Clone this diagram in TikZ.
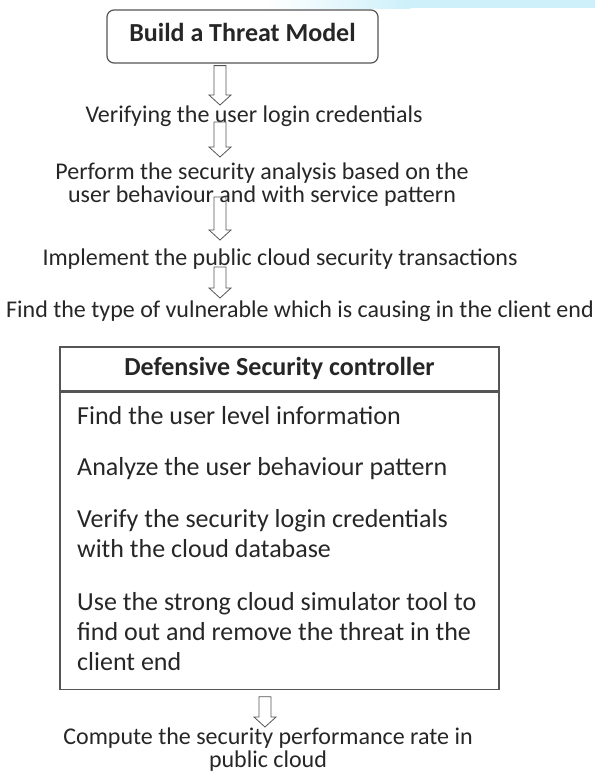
\documentclass[tikz,border=0pt]{standalone}
\usepackage{fontspec}
\setmainfont{Carlito}
\definecolor{myink}{RGB}{38, 38, 38}
\definecolor{myframe}{RGB}{85, 85, 85}
\definecolor{mysky}{RGB}{205, 240, 250}
\usetikzlibrary{calc, positioning}

\tikzset{
	flowtext/.style = {anchor = base, inner sep = 0pt, align = center, text = myink, font = \fontsize{24}{23}\selectfont},
	itemtext/.style = {anchor = base west, inner sep = 0pt, align = left, text = myink, font = \fontsize{26}{30}\selectfont},
	topbox/.style = {draw = myframe, line width = 1.2pt, rounded corners = 7pt, minimum width = 271pt, minimum height = 53pt, text = myink, text height = 18pt, text depth = 9pt, font = \bfseries\fontsize{26}{26}\selectfont},
	headbox/.style = {draw = myframe, line width = 1.2pt, minimum width = 439pt, minimum height = 44pt, text = myink, text height = 18pt, text depth = 6pt, font = \bfseries\fontsize{26}{26}\selectfont},
	bodybox/.style = {draw = myframe, line width = 1.2pt, minimum width = 439pt, minimum height = 297pt},
	flowarrow/.style = {draw = myframe, line width = 0.8pt, line join = miter,
		to path = {let \p1 = (\tikztostart), \p2 = (\tikztotarget) in
			(\x1-6pt,\y1) -- (\x1+6pt,\y1) -- (\x1+6pt,\y2+10pt) -- (\x1+11pt,\y2+10pt)
			-- (\x1,\y2) -- (\x1-11pt,\y2+10pt) -- (\x1-6pt,\y2+10pt) -- cycle}}
}

\begin{document}
\begin{tikzpicture}[x = 1pt, y = -1pt]
	\useasboundingbox (0,0) rectangle (595,774);
	\shade[left color = white, right color = mysky] (265,0) rectangle (410,8);
	\fill[mysky] (410,0) rectangle (595,8);

	% flow above the controller (base = last line)
	\node[topbox] (model) at (242.5,36.5) {Build a Threat Model};
	\node[flowtext] (login) at (254,122) {Verifying the user login credentials};
	\node[flowtext] (analysis) at (262,202) {Perform the security analysis based on the\\user behaviour and with service pattern};
	\node[flowtext] (transact) at (280,265) {Implement the public cloud security transactions};
	\node[flowtext] (vulner) at (300,317) {Find the type of vulnerable which is causing in the client end};

	% controller
	\node[headbox] (ctrl) at (279.5,369) {Defensive Security controller};
	\node[bodybox, below = 0pt of ctrl] (ctrlbody) {};
	\node[itemtext] (steps) at (77,670) {Find the user level information\\[21pt]
		Analyze the user behaviour pattern\\[22pt]
		Verify the security login credentials\\with the cloud database\\[23pt]
		Use the strong cloud simulator tool to\\find out and remove the threat in the\\client end};

	\node[flowtext] (rate) at (268,767) {Compute the security performance rate in\\public cloud};

	\coordinate (col) at (220,0);
	\coordinate (colb) at (265,0);
	\draw[flowarrow] ($(model.south -| col)+(0,2)$) to ($(login.base -| col)+(0,-17)$);
	\draw[flowarrow] (login.base -| col) to ($(analysis.base -| col)+(0,-45)$);
	\draw[flowarrow] ($(analysis.base -| col)+(0,-5)$) to ($(transact.base -| col)+(0,-25)$);
	\draw[flowarrow] ($(transact.base -| col)+(0,2)$) to ($(vulner.base -| col)+(0,-19)$);
	\draw[flowarrow] ($(ctrlbody.south -| colb)+(0,7)$) to ($(rate.base -| colb)+(0,-40)$);
\end{tikzpicture}
\end{document}
